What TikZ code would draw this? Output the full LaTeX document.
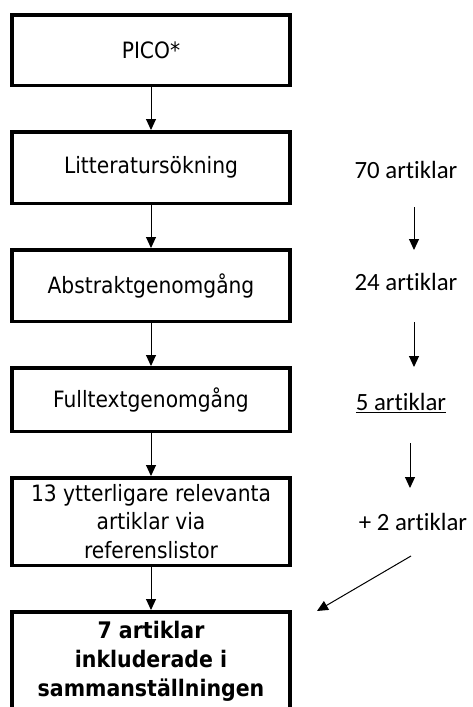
\documentclass[tikz,border=0pt]{standalone}
\usepackage{fontspec}
\newfontfamily\boxfont{DejaVu Sans Condensed}
\newfontfamily\lblfont{Carlito}[RawFeature={-liga}]
\usepackage{tikz}
\usetikzlibrary{positioning,arrows.meta}

\begin{document}
\begin{tikzpicture}[x=1pt,y=1pt,node distance=43pt,
  stepbox/.style={draw,line width=3.5pt,minimum width=278pt,inner sep=2pt,align=center,
    font=\boxfont\fontsize{22.5}{28.5}\selectfont},
  lbl/.style={font=\lblfont\fontsize{24.8}{28}\selectfont,inner sep=0pt},
  arr/.style={-{Triangle[width=10pt,length=11pt]},line width=1pt}]

  \useasboundingbox (0,0) rectangle (473,-707);

  \node[stepbox,minimum height=70.5pt] (pico) at (151,-50) {PICO*};
  \node[stepbox,minimum height=71.5pt] (sok) [below=of pico] {Litteratursökning};
  \node[stepbox,minimum height=71.5pt] (abs) [below=of sok] {Abstraktgenomgång};
  \node[stepbox,minimum height=63.5pt] (full) [below=of abs] {Fulltextgenomgång};
  \node[stepbox,minimum height=87.5pt] (ref) [below=of full] {13 ytterligare relevanta\\artiklar via\\referenslistor};
  \node[stepbox,minimum height=100pt,font=\boxfont\bfseries\fontsize{22.8}{29}\selectfont] (inkl) [below=of ref] {7 artiklar\\inkluderade i\\sammanställningen};

  \path[arr] (pico) edge (sok);
  \path[arr] (sok) edge (abs);
  \path[arr] (abs) edge (full);
  \path[arr] (full) edge (ref);
  \path[arr] (ref) edge (inkl);

  \node[lbl] (n70) at (406,-170) {70 artiklar};
  \node[lbl] (n24) at (406,-282) {24 artiklar};
  \node[lbl] (n5) at (401,-403) {\underline{5 artiklar}};
  \node[lbl] (n2) at (413,-522) {+ 2 artiklar};

  \coordinate (a1s) at (414,-207);
  \coordinate (a1e) at (414,-250);
  \coordinate (a2s) at (414,-322);
  \coordinate (a2e) at (414,-367);
  \coordinate (a3s) at (410,-443);
  \coordinate (a3e) at (410,-488);
  \coordinate (d1) at (411,-556);
  \coordinate (d2) at (317,-611);

  \path[arr] (a1s) edge (a1e);
  \path[arr] (a2s) edge (a2e);
  \path[arr] (a3s) edge (a3e);
  \path[arr] (d1) edge (d2);

\end{tikzpicture}
\end{document}
